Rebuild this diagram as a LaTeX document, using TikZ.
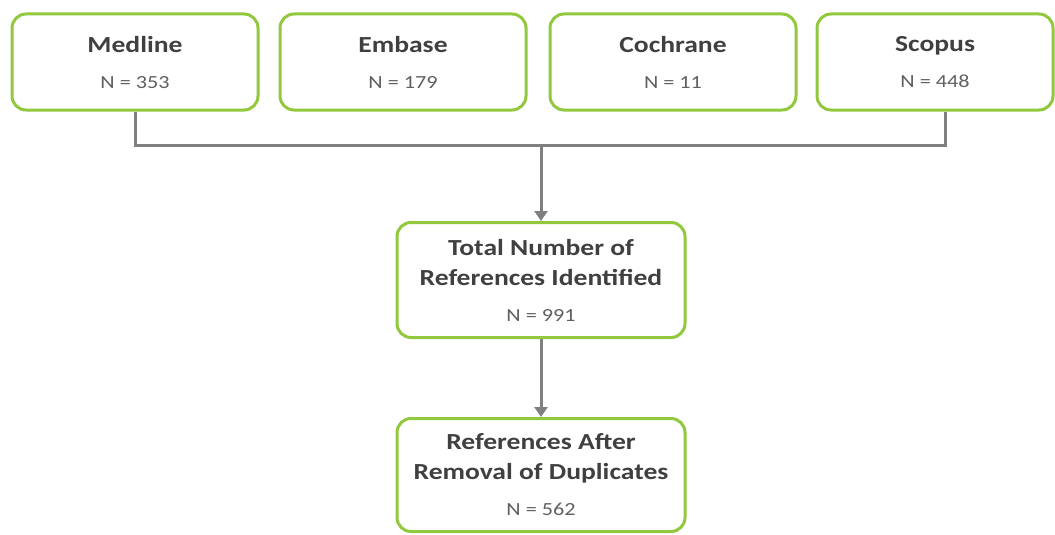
\documentclass[tikz,border=0pt]{standalone}
\usepackage{fontspec}
\setmainfont[FakeStretch = 1.2]{Carlito}
\usetikzlibrary{arrows.meta}
\definecolor{boxgreen}{RGB}{146,200,62}
\definecolor{linegray}{RGB}{128,128,128}
\definecolor{headgray}{RGB}{64,64,64}
\definecolor{numgray}{RGB}{96,96,96}
\newcommand{\numline}[1]{{\fontsize{18.5}{30}\selectfont\mdseries\color{numgray}#1}}
\tikzset{srcbox/.style = {draw = boxgreen, line width = 3pt, rounded corners = 14pt,
                          fill = white, align = center, text = headgray,
                          font = \fontsize{23}{30}\selectfont\bfseries,
                          inner sep = 0, minimum height = 96pt}}
\tikzset{flowline/.style = {draw = linegray, line width = 3pt}}
\tikzset{flowarrow/.style = {flowline, -{Triangle[width=13pt, length=10pt]}}}

\begin{document}
\begin{tikzpicture}[x = 1pt, y = -1pt]
      \useasboundingbox (0, 0) rectangle (1055, 535);
      \node [srcbox, minimum width = 246pt] (medline) at (135, 62) {Medline\\[6pt]\numline{N = 353}};
      \node [srcbox, minimum width = 246pt] (embase) at (403, 62) {Embase\\[6pt]\numline{N = 179}};
      \node [srcbox, minimum width = 246pt] (cochrane) at (673, 62) {Cochrane\\[6pt]\numline{N = 11}};
      \node [srcbox, minimum width = 236pt] (scopus) at (935, 62) {Scopus\\[6pt]\numline{N = 448}};
      \node [srcbox, minimum width = 288pt, minimum height = 115pt] (total) at (541, 280)
            {Total Number of\\References Identified\\[6pt]\numline{N = 991}};
      \node [srcbox, minimum width = 288pt, minimum height = 113pt] (unique) at (541, 475)
            {References After\\Removal of Duplicates\\[6pt]\numline{N = 562}};
      \coordinate (join) at (541, 145);
      \draw [flowline] (medline.south) |- (join) -| ([xshift = 10pt]scopus.south);
      \draw [flowarrow] (join) -- (total.north);
      \draw [flowarrow] (total.south) -- (unique.north);
    \end{tikzpicture}
\end{document}
